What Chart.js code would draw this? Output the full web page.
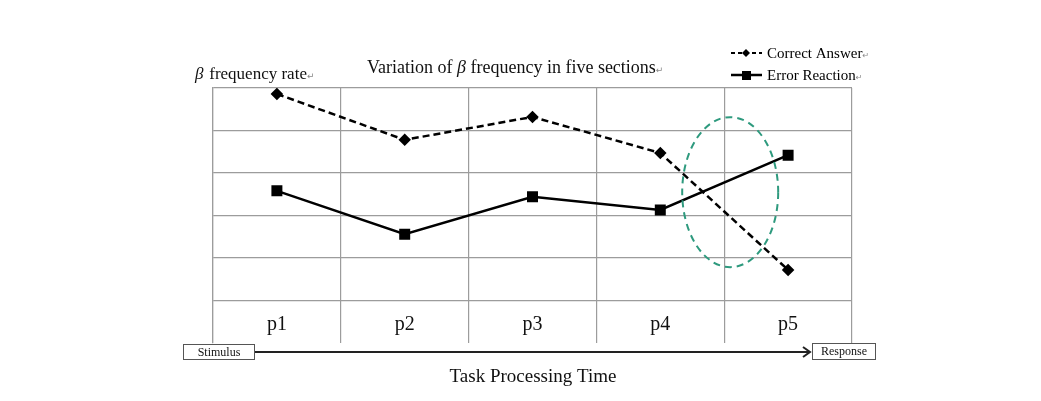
<!DOCTYPE html>
<html>
<head>
<meta charset="utf-8">
<script src="https://cdn.jsdelivr.net/npm/chart.js@4"></script>
<style>
  html, body { margin: 0; padding: 0; background: #fff; }
  #wrap { width: 1041px; height: 401px; }
</style>
</head>
<body>
<div id="wrap"><canvas id="grafico" width="1041" height="401"></canvas></div>
<script>
const secoes = ["p1", "p2", "p3", "p4", "p5"];
const acertos = [5.86, 4.78, 5.32, 4.47, 1.72];
const erros = [3.58, 2.56, 3.44, 3.13, 4.42];
const marcasY = [0, 1, 2, 3, 4, 5, 6];

const serif = '"Liberation Serif", "Times New Roman", serif';

// desenha titulos, rotulos p1..p5, seta de tempo, legenda e a elipse verde
const extras = {
  id: "extras",
  afterDatasetsDraw(chart) {
    const { ctx, scales } = chart;
    const x = scales.x, y = scales.y;
    ctx.save();

    // rotulos dentro da ultima faixa
    ctx.fillStyle = "#111";
    ctx.font = "20px " + serif;
    ctx.textAlign = "center";
    ctx.textBaseline = "middle";
    secoes.forEach((s, i) => {
      ctx.fillText(s, x.getPixelForValue(i), y.getPixelForValue(0.42));
    });

    // elipse verde tracejada
    const cx = (x.getPixelForValue(3) + x.getPixelForValue(4)) / 2 + 6;
    const cy = y.getPixelForValue(3.55);
    ctx.strokeStyle = "#2e9a7e";
    ctx.lineWidth = 2;
    ctx.setLineDash([7, 5]);
    ctx.beginPath();
    ctx.ellipse(cx, cy, 48, 75, 0, 0, Math.PI * 2);
    ctx.stroke();
    ctx.setLineDash([]);

    // titulos
    ctx.fillStyle = "#111";
    ctx.textAlign = "left";
    ctx.textBaseline = "alphabetic";
    ctx.font = "18px " + serif;
    ctx.fillText("Variation of ", 367, 73);
    let w = ctx.measureText("Variation of ").width;
    ctx.font = "italic 18px " + serif;
    ctx.fillText("\u03b2", 367 + w, 73);
    w += ctx.measureText("\u03b2").width;
    ctx.font = "18px " + serif;
    ctx.fillText(" frequency in five sections", 367 + w, 73);
    w += ctx.measureText(" frequency in five sections").width;
    ctx.fillStyle = "#888";
    ctx.font = "9px DejaVu Sans";
    ctx.fillText("\u21b5", 367 + w, 73);

    ctx.fillStyle = "#111";
    ctx.font = "italic 17px " + serif;
    ctx.fillText("\u03b2", 195, 79);
    ctx.font = "17px " + serif;
    ctx.fillText(" frequency rate", 205, 79);
    const w2 = ctx.measureText(" frequency rate").width;
    ctx.fillStyle = "#888";
    ctx.font = "9px DejaVu Sans";
    ctx.fillText("\u21b5", 205 + w2, 79);

    // legenda
    ctx.strokeStyle = "#000";
    ctx.fillStyle = "#000";
    ctx.lineWidth = 2;
    ctx.setLineDash([4, 3]);
    ctx.beginPath(); ctx.moveTo(731, 53); ctx.lineTo(762, 53); ctx.stroke();
    ctx.setLineDash([]);
    ctx.beginPath();
    ctx.moveTo(746, 49); ctx.lineTo(750, 53); ctx.lineTo(746, 57); ctx.lineTo(742, 53);
    ctx.closePath(); ctx.fill();
    ctx.lineWidth = 2.5;
    ctx.beginPath(); ctx.moveTo(731, 75); ctx.lineTo(762, 75); ctx.stroke();
    ctx.fillRect(742, 71, 9, 9);
    ctx.font = "15px " + serif;
    ctx.fillText("Correct Answer", 767, 58);
    const wa = ctx.measureText("Correct Answer").width;
    ctx.fillText("Error Reaction", 767, 80);
    const wb = ctx.measureText("Error Reaction").width;
    ctx.fillStyle = "#888";
    ctx.font = "8px DejaVu Sans";
    ctx.fillText("\u21b5", 767 + wa, 58);
    ctx.fillText("\u21b5", 767 + wb, 80);

    // seta Stimulus -> Response
    ctx.strokeStyle = "#222";
    ctx.lineWidth = 2;
    ctx.beginPath(); ctx.moveTo(254, 352); ctx.lineTo(810, 352); ctx.stroke();
    ctx.beginPath(); ctx.moveTo(803, 347); ctx.lineTo(810, 352); ctx.lineTo(803, 357); ctx.stroke();
    ctx.lineWidth = 1;
    ctx.strokeStyle = "#555";
    ctx.fillStyle = "#fff";
    ctx.fillRect(183.5, 344.5, 71, 15);
    ctx.strokeRect(183.5, 344.5, 71, 15);
    ctx.fillRect(812.5, 343.5, 63, 16);
    ctx.strokeRect(812.5, 343.5, 63, 16);
    ctx.fillStyle = "#111";
    ctx.font = "12px " + serif;
    ctx.textAlign = "center";
    ctx.textBaseline = "middle";
    ctx.fillText("Stimulus", 219, 352.5);
    ctx.fillText("Response", 844, 352);

    ctx.font = "19px " + serif;
    ctx.fillText("Task Processing Time", 533, 377);

    ctx.restore();
  }
};

new Chart(document.getElementById("grafico"), {
  type: "line",
  data: {
    labels: secoes,
    datasets: [
      {
        label: "Correct Answer",
        data: acertos,
        borderColor: "#000",
        backgroundColor: "#000",
        borderWidth: 2.5,
        borderDash: [7, 4],
        pointStyle: "rectRot",
        pointRadius: 4.5,
        tension: 0
      },
      {
        label: "Error Reaction",
        data: erros,
        borderColor: "#000",
        backgroundColor: "#000",
        borderWidth: 2.5,
        pointStyle: "rect",
        pointRadius: 6,
        tension: 0
      }
    ]
  },
  options: {
    responsive: false,
    animation: false,
    layout: { padding: { left: 213, right: 189, top: 88, bottom: 58 } },
    plugins: { legend: { display: false }, tooltip: { enabled: false } },
    scales: {
      x: {
        offset: true,
        grid: { offset: true, color: "#9c9c9c", lineWidth: 1.2, drawTicks: false },
        border: { display: false },
        ticks: { display: false }
      },
      y: {
        min: marcasY[0],
        max: marcasY[marcasY.length - 1],
        afterBuildTicks: (s) => { s.ticks = marcasY.map(v => ({ value: v })); },
        grid: {
          color: (c) => c.tick && c.tick.value === 0 ? "rgba(0,0,0,0)" : "#9c9c9c",
          lineWidth: 1.2,
          drawTicks: false
        },
        border: { display: true, color: "#9c9c9c", width: 1.2 },
        ticks: { display: false }
      }
    }
  },
  plugins: [extras]
});
</script>
</body>
</html>
